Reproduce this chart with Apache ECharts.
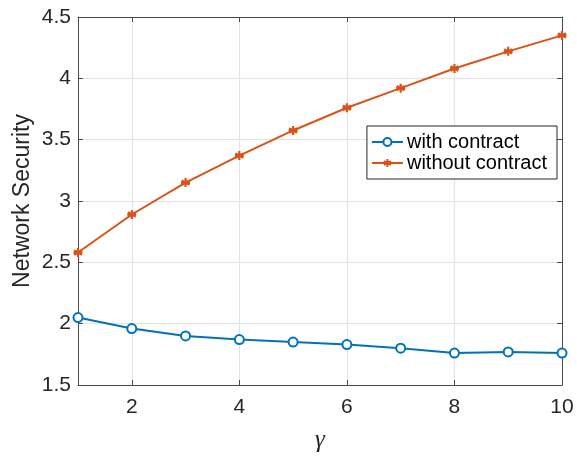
<!DOCTYPE html>
<html>
<head>
<meta charset="utf-8">
<script src="https://cdn.jsdelivr.net/npm/echarts@6/dist/echarts.min.js"></script>
<style>html,body{margin:0;padding:0;background:#fff;}#c{width:577px;height:458px;}</style>
</head>
<body>
<div id="c"></div>
<script>
const gammaValues = [1, 2, 3, 4, 5, 6, 7, 8, 9, 10];
const withContract = [2.05, 1.96, 1.90, 1.87, 1.85, 1.83, 1.80, 1.76, 1.77, 1.76];
const withoutContract = [2.58, 2.89, 3.15, 3.37, 3.575, 3.76, 3.92, 4.08, 4.22, 4.35];
const xTickValues = [2, 4, 6, 8, 10];
const seriesNames = ['with contract', 'without contract'];
const yAxisTitle = 'Network Security';
const xAxisTitle = 'γ';

const FONT = '"Liberation Sans", Arial, Helvetica, sans-serif';
const AX = '#262626';
const AXLINE = '#4a4a4a';
const GRID = '#e3e3e3';
const BLUE = '#0072BD';
const ORANGE = '#D95319';
const asterisk = 'path://M0,-5L0,5M-4.33,-2.5L4.33,2.5M-4.33,2.5L4.33,-2.5M-5,0L5,0';

const chart = echarts.init(document.getElementById('c'), null, {renderer: 'canvas'});
const pairs = arr => gammaValues.map((g, i) => [g, arr[i]]);
chart.setOption({
  animation: false,
  backgroundColor: '#fff',
  grid: {left: 78, right: 15, top: 17, bottom: 71, containLabel: false},
  legend: {
    right: 20, top: 126,
    orient: 'vertical',
    backgroundColor: '#fff',
    borderColor: AX, borderWidth: 1, borderRadius: 0,
    padding: [6, 10, 6, 4],
    itemGap: 1,
    itemWidth: 31, itemHeight: 10,
    textStyle: {fontFamily: FONT, fontSize: 20, color: '#000', padding: [0, 0, 0, -1]},
    data: seriesNames
  },
  xAxis: [{
    type: 'value', min: 1, max: 10,
    name: xAxisTitle, nameLocation: 'middle', nameGap: 43, nameMoveOverlap: false,
    nameTextStyle: {fontFamily: '"Liberation Serif", "Times New Roman", serif', fontStyle: 'italic', fontSize: 25, color: AX},
    axisLine: {show: true, lineStyle: {color: AXLINE, width: 1}},
    axisTick: {show: true, inside: true, length: 5, lineStyle: {color: AXLINE}, customValues: xTickValues},
    axisLabel: {fontFamily: FONT, fontSize: 21, color: AX, margin: 12, customValues: xTickValues},
    splitLine: {show: true, lineStyle: {color: GRID, width: 1}}
  }, {
    type: 'value', min: 1, max: 10, position: 'top',
    axisLine: {show: true, lineStyle: {color: AXLINE, width: 1}},
    axisTick: {show: true, inside: true, length: 5, lineStyle: {color: AXLINE}, customValues: xTickValues},
    axisLabel: {show: false, customValues: xTickValues}, splitLine: {show: false}
  }],
  yAxis: [{
    type: 'value', min: 1.5, max: 4.5, interval: 0.5,
    name: yAxisTitle, nameLocation: 'middle', nameGap: 44, nameMoveOverlap: false,
    nameTextStyle: {fontFamily: FONT, fontSize: 23, color: AX},
    axisLine: {show: true, lineStyle: {color: AXLINE, width: 1}},
    axisTick: {show: true, inside: true, length: 5, lineStyle: {color: AXLINE}},
    axisLabel: {fontFamily: FONT, fontSize: 21, color: AX, margin: 7},
    splitLine: {show: true, lineStyle: {color: GRID, width: 1}}
  }, {
    type: 'value', min: 1.5, max: 4.5, interval: 0.5, position: 'right',
    axisLine: {show: true, lineStyle: {color: AXLINE, width: 1}},
    axisTick: {show: true, inside: true, length: 5, lineStyle: {color: AXLINE}},
    axisLabel: {show: false}, splitLine: {show: false}
  }],
  series: [{
    name: seriesNames[0], type: 'line', data: pairs(withContract),
    xAxisIndex: 0, yAxisIndex: 0,
    lineStyle: {color: BLUE, width: 2},
    symbol: 'emptyCircle', symbolSize: 9,
    itemStyle: {color: BLUE, borderColor: BLUE, borderWidth: 1.8},
    z: 3
  }, {
    name: seriesNames[1], type: 'line', data: pairs(withoutContract),
    xAxisIndex: 0, yAxisIndex: 0,
    lineStyle: {color: ORANGE, width: 2},
    symbol: asterisk, symbolSize: 9,
    itemStyle: {color: ORANGE, borderColor: ORANGE, borderWidth: 2.2},
    z: 3
  }]
});
</script>
</body>
</html>
